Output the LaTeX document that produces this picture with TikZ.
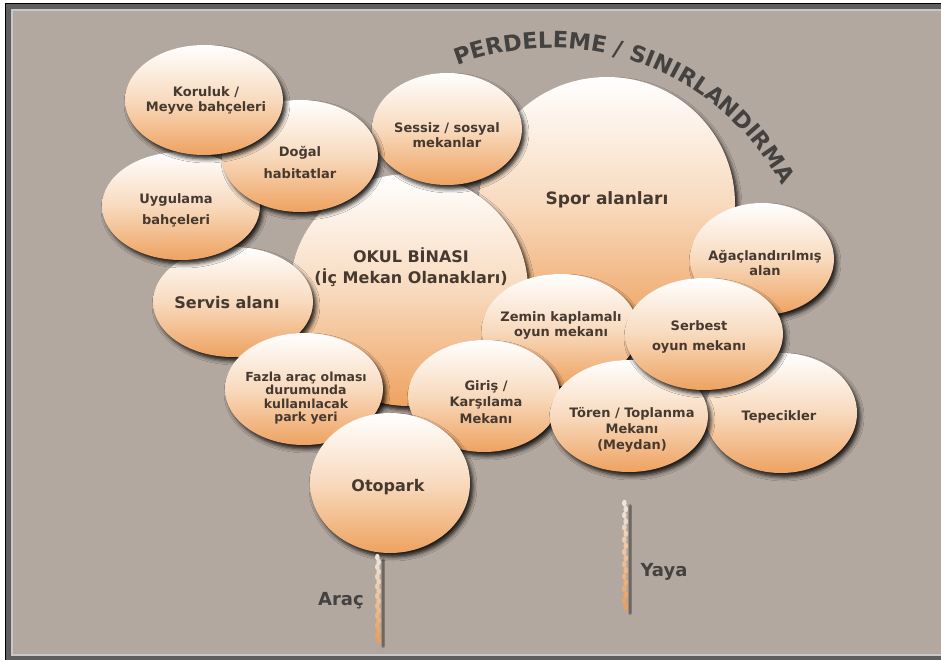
\documentclass[tikz,border=0pt]{standalone}
\usepackage{fontspec}
\setmainfont{DejaVu Sans}
\usetikzlibrary{shapes.geometric,shadows.blur,decorations.text,calc}
\definecolor{bgc}{RGB}{179,168,159}
\definecolor{frameD}{RGB}{94,94,94}
\definecolor{frameL}{RGB}{200,200,200}
\definecolor{txtc}{RGB}{70,58,48}
\definecolor{titc}{RGB}{68,66,64}
\definecolor{orng}{RGB}{238,162,96}
\definecolor{peach}{RGB}{248,218,190}
\definecolor{ropetop}{RGB}{236,230,224}
\definecolor{roperng}{RGB}{236,160,90}
\tikzset{
  bub/.style={ellipse, inner sep=0pt, top color=white, bottom color=orng, middle color=peach,
    blur shadow={shadow xshift=3pt, shadow yshift=-4pt, shadow blur radius=4pt, shadow opacity=85}},
  lbl/.style={align=center, text=txtc, inner sep=0pt, font=\bfseries\fontsize{13}{15}\selectfont},
  bigl/.style={font=\bfseries\fontsize{16}{21}\selectfont},
  side/.style={text=titc, inner sep=0pt, font=\bfseries\fontsize{18}{20}\selectfont},
  bead/.style={fill=roperng!#1!ropetop},
}
\begin{document}
\begin{tikzpicture}[x=1pt,y=-1pt]
\useasboundingbox (0,0) rectangle (941,660);
% frame
\fill[white] (0,0) rectangle (950,670);
\fill[black] (5,3) rectangle (950,670);
\fill[frameD] (6,4) rectangle (950,670);
\fill[frameL] (11,9) rectangle (950,656);
\fill[bgc] (13,11) rectangle (950,654);

% title along arc
\path[decorate, decoration={text along path, text color=titc, text align=left,
  text={|\bfseries\fontsize{22.5}{22.5}\selectfont|PERDELEME / SINIRLANDIRMA}}]
  (551,310) ++(-111:262) arc[start angle=-111, end angle=-12, radius=262];

% bubbles
\node[bub, minimum width=256pt, minimum height=254pt] (spor) at (607,204) {};
\node[lbl, font=\bfseries\fontsize{17}{20}\selectfont] (spor-t) at (607,200) {Spor alanları};

\node[bub, minimum width=238pt, minimum height=232pt] (okul) at (409,290) {};
\node[lbl, bigl] (okul-t) at (411,267) {OKUL BİNASI\\(İç Mekan Olanakları)};

\node[bub, minimum width=150pt, minimum height=112pt] (sessiz) at (447,129) {};
\node[lbl] (sessiz-t) at (447,135) {Sessiz / sosyal\\mekanlar};

\node[bub, minimum width=160pt, minimum height=110pt] (servis) at (233,302) {};
\node[lbl, bigl] (servis-t) at (227,303) {Servis alanı};

\node[bub, minimum width=158pt, minimum height=108pt] (uyg) at (181,206) {};
\node[lbl, font=\bfseries\fontsize{13}{21}\selectfont] (uyg-t) at (176,210) {Uygulama\\bahçeleri};

\node[bub, minimum width=156pt, minimum height=112pt] (dogal) at (300,156) {};
\node[lbl, font=\bfseries\fontsize{13}{22}\selectfont] (dogal-t) at (300,162) {Doğal\\habitatlar};

\node[bub, minimum width=158pt, minimum height=110pt] (koru) at (204,100) {};
\node[lbl] (koru-t) at (206,100) {Koruluk /\\Meyve bahçeleri};

\node[bub, minimum width=144pt, minimum height=112pt] (agac) at (762,259) {};
\node[lbl] (agac-t) at (765,263) {Ağaçlandırılmış\\alan};

\node[bub, minimum width=156pt, minimum height=112pt] (zemin) at (560,330) {};
\node[lbl] (zemin-t) at (561,325) {Zemin kaplamalı\\oyun mekanı};

\node[bub, minimum width=152pt, minimum height=120pt] (tepe) at (781,413) {};
\node[lbl] (tepe-t) at (779,417) {Tepecikler};

\node[bub, minimum width=152pt, minimum height=112pt] (giris) at (484,396) {};
\node[lbl, font=\bfseries\fontsize{13}{16.5}\selectfont] (giris-t) at (486,402) {Giriş /\\Karşılama\\Mekanı};

\node[bub, minimum width=158pt, minimum height=112pt] (toren) at (629,416) {};
\node[lbl, font=\bfseries\fontsize{13}{16}\selectfont] (toren-t) at (632,430) {Tören / Toplanma\\Mekanı\\(Meydan)};

\node[bub, minimum width=158pt, minimum height=112pt] (serbest) at (704,334) {};
\node[lbl, font=\bfseries\fontsize{13}{20}\selectfont] (serbest-t) at (699,337) {Serbest\\oyun mekanı};

\node[bub, minimum width=158pt, minimum height=112pt] (fazla) at (304,389) {};
\node[lbl, font=\bfseries\fontsize{12.5}{13.5}\selectfont] (fazla-t) at (306,398) {Fazla araç olması\\durumunda\\kullanılacak\\park yeri};

\node[bub, minimum width=160pt, minimum height=140pt] (otop) at (390,483) {};
\node[lbl, bigl] (otop-t) at (388,487) {Otopark};

% ropes
\coordinate (aracTop) at ($(otop.south)+(-12,4)$);
\coordinate (aracEnd) at (378,640);
\coordinate (yayaTop) at (625,503);
\coordinate (yayaEnd) at (625,607);
\foreach \s/\e in {aracTop/aracEnd, yayaTop/yayaEnd}{
  \foreach \k in {1.5,3,4.5}{
    \draw[black, opacity=0.15, line width=\k pt, line cap=round]
      ($(\s)+(5,3)$) -- ($(\e)+(5,6)$);
  }
  \foreach \i in {0,...,17}{
    \pgfmathtruncatemacro\p{100*\i/17}
    \pgfmathsetmacro\off{mod(\i,2)==0 ? -0.7 : 0.7}
    \fill[bead=\p] ($(\s)!{\i/17}!(\e)+(\off,0)$) ellipse[x radius=2.3, y radius=3.4];
  }
}

\node[side] (arac) at (341,601) {Araç};
\node[side] (yaya) at (664,572) {Yaya};
\end{tikzpicture}
\end{document}
